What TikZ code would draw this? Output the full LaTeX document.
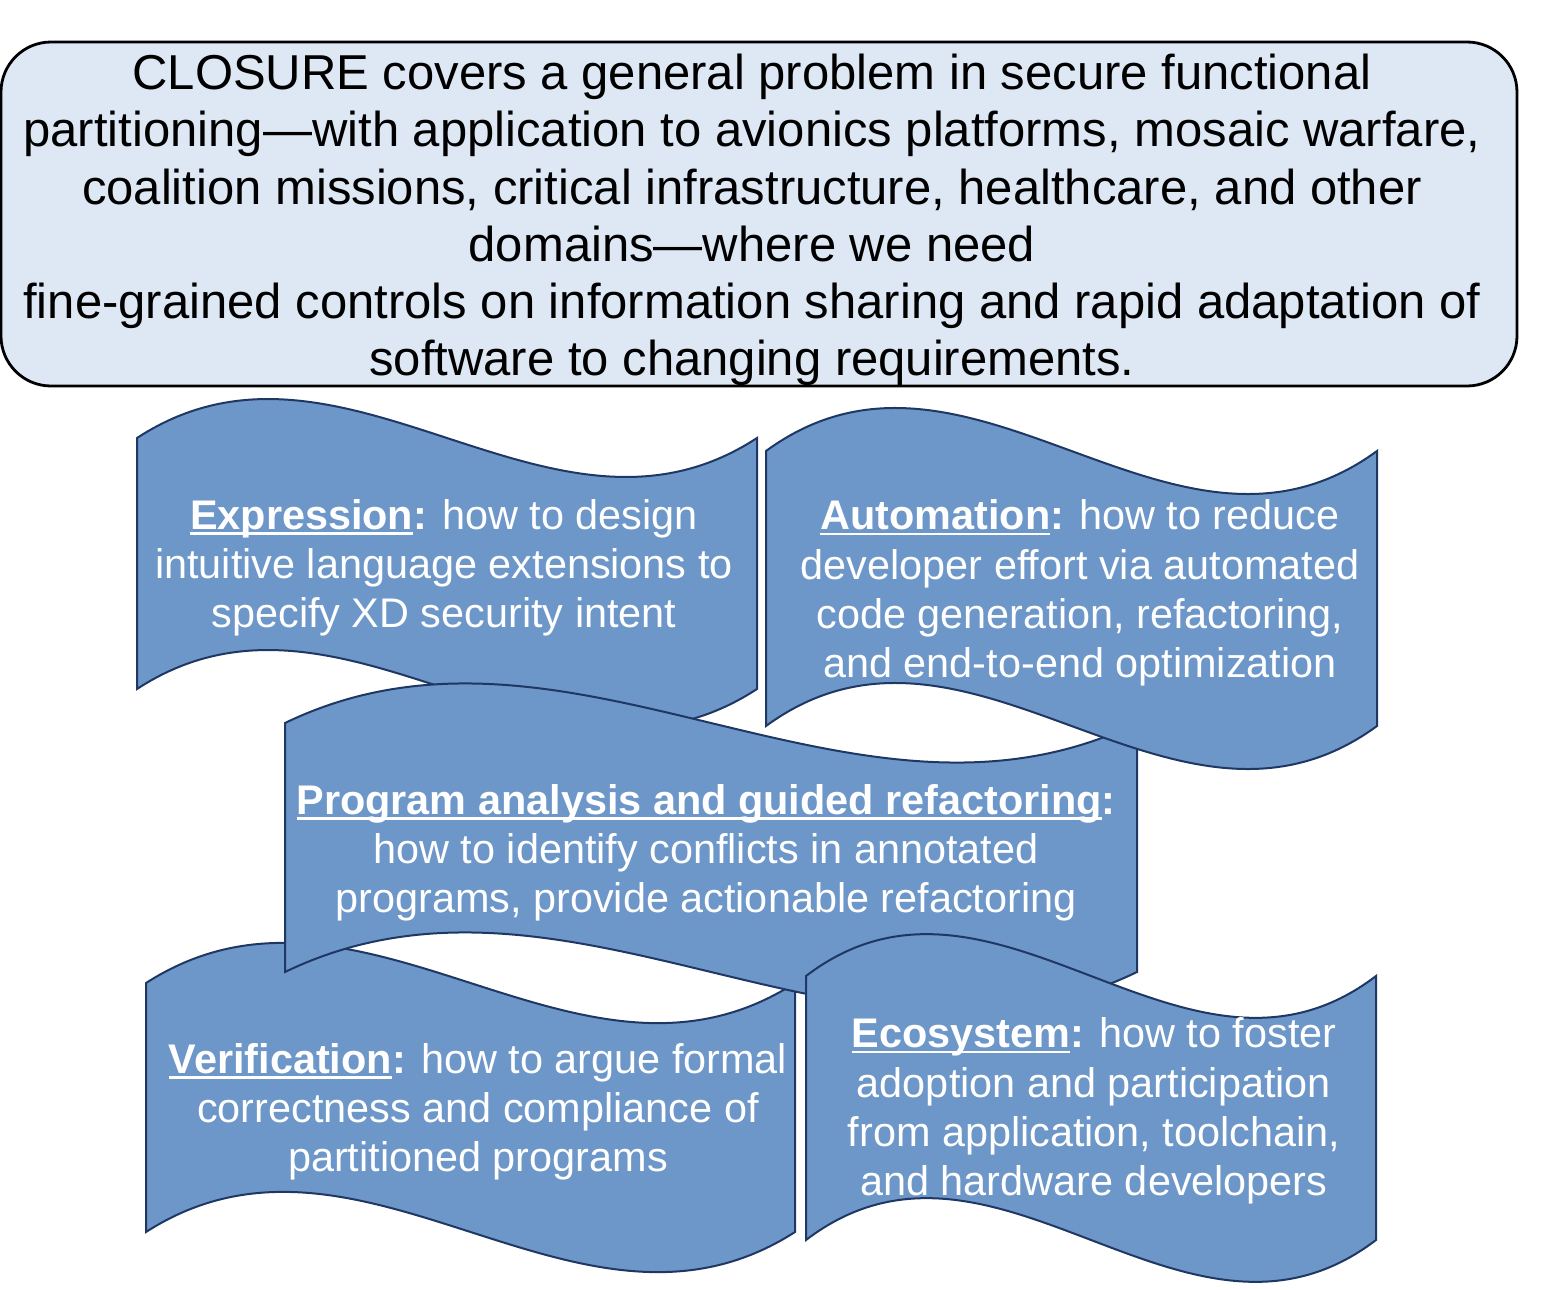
\documentclass[tikz,border=0pt]{standalone}
\usepackage{fontspec}
\setmainfont{Liberation Sans}
\definecolor{boxfill}{HTML}{DEE8F4}
\definecolor{wavefill}{HTML}{6D96C9}
\definecolor{waveline}{HTML}{1F3763}
\newcommand\myul[1]{\setbox0\hbox{#1}\rlap{\rule[-2.6pt]{\wd0}{1.3pt}}\box0}
\newcommand\wavepath[6]{%
  % #1 name, #2 left, #3 right, #4 top y, #5 bottom y, #6 control offset
  \draw[waveshape] (#2,#4) .. controls ({#2+(#3-#2)/3},{#4-#6}) and ({#2+2*(#3-#2)/3},{#4+#6}) .. (#3,#4)
     -- (#3,#5) .. controls ({#2+2*(#3-#2)/3},{#5+#6}) and ({#2+(#3-#2)/3},{#5-#6}) .. (#2,#5) -- cycle;
  \coordinate (#1) at ({(#2+#3)/2},{(#4+#5)/2});
}
\tikzset{
  waveshape/.style={fill=wavefill, draw=waveline, line width=1pt, line join=miter},
  wavetext/.style={text=white, align=center, inner sep=0pt, font=\fontsize{20.7}{24.6}\selectfont},
  topbox/.style={fill=boxfill, draw=black, line width=1.4pt, rounded corners=25pt},
}
\begin{document}
\begin{tikzpicture}[x=0.5pt,y=-0.5pt]
\useasboundingbox (0,0) rectangle (1544,1290);
% top box
\path[topbox] (1,42) rectangle (1517,386);
\node[align=center, inner sep=0pt, font=\fontsize{24.5}{28.6}\selectfont] (intro) at (752,220)
 {CLOSURE covers a general problem in secure functional\\
  partitioning—with application to avionics platforms, mosaic warfare,\\
  coalition missions, critical infrastructure, healthcare, and other\\
  domains—where we need\\
  fine-grained controls on information sharing and rapid adaptation of\\
  software to changing requirements.};
% waves (z-order: expression, verification, program, automation, ecosystem)
\wavepath{expr}{137}{757}{438}{689}{135}
\wavepath{veri}{146}{795}{983}{1232}{139}
\wavepath{prog}{285}{1137}{723}{972}{137}
\wavepath{auto}{766}{1377}{451}{726}{149}
\wavepath{eco}{806}{1376}{976}{1240}{145}
\node[wavetext] (exprtext) at (444,568)
 {\myul{\textbf{Expression}}\textbf{:} how to design\\
  intuitive language extensions to\\
  specify XD security intent};
\node[wavetext] (autotext) at (1080,593)
 {\myul{\textbf{Automation}}\textbf{:} how to reduce\\
  developer effort via automated\\
  code generation, refactoring,\\
  and end-to-end optimization};
\node[wavetext] (progtext) at (706,853)
 {\myul{\textbf{Program analysis and guided refactoring}}\textbf{:}\\
  how to identify conflicts in annotated\\
  programs, provide actionable refactoring};
\node[wavetext] (veritext) at (478,1112)
 {\myul{\textbf{Verification}}\textbf{:} how to argue formal\\
  correctness and compliance of\\
  partitioned programs};
\node[wavetext] (ecotext) at (1094,1111)
 {\myul{\textbf{Ecosystem}}\textbf{:} how to foster\\
  adoption and participation\\
  from application, toolchain,\\
  and hardware developers};
\end{tikzpicture}
\end{document}
